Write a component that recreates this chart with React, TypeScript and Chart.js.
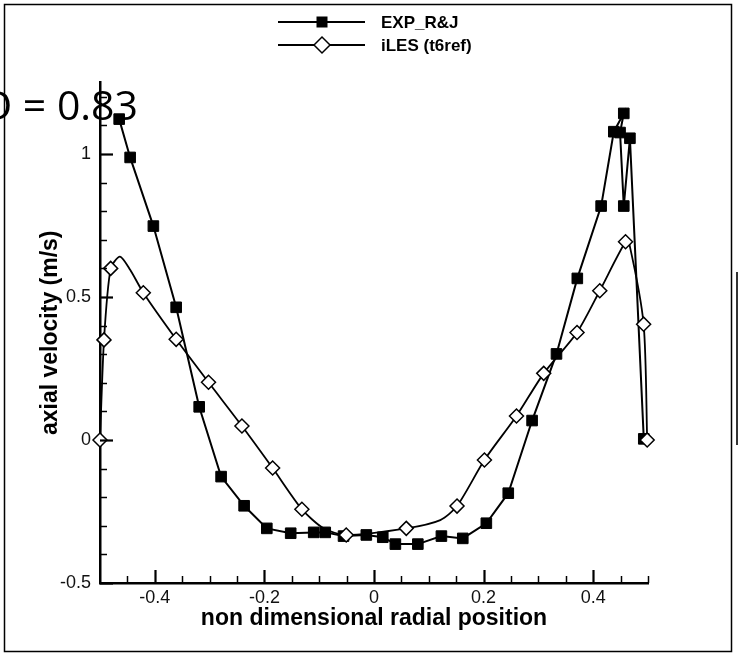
import React, { useEffect, useRef } from 'react';
import { Chart, registerables } from 'chart.js';

Chart.register(...registerables);

const FONT = '"Liberation Sans", Arial, Helvetica, sans-serif';

// Experimental data (EXP_R&J) - filled squares
const EXP_X = [-0.465, -0.445, -0.4026, -0.361, -0.319, -0.279, -0.237, -0.1956, -0.152, -0.11, -0.089, -0.0556, -0.014, 0.016, 0.039, 0.08, 0.123, 0.162, 0.205, 0.245, 0.2885, 0.333, 0.371, 0.4145, 0.4376, 0.4558, 0.449, 0.4558, 0.467, 0.4923];
const EXP_Y = [1.122, 0.988, 0.748, 0.464, 0.116, -0.128, -0.23, -0.309, -0.326, -0.323, -0.323, -0.336, -0.332, -0.34, -0.364, -0.364, -0.336, -0.344, -0.291, -0.186, 0.068, 0.301, 0.565, 0.818, 1.078, 1.142, 1.075, 0.818, 1.055, 0.004];

// Simulation data (iLES (t6ref)) - open diamonds on a smooth line
const ILES_X = [-0.5, -0.4927, -0.4805, -0.4635, -0.445, -0.421, -0.361, -0.302, -0.241, -0.185, -0.1316, -0.092, -0.0507, 0.0589, 0.121, 0.1515, 0.2015, 0.26, 0.3097, 0.3705, 0.412, 0.459, 0.466, 0.492, 0.4985];
const ILES_Y = [0.0, 0.35, 0.6, 0.641, 0.595, 0.515, 0.352, 0.2017, 0.049, -0.098, -0.242, -0.309, -0.332, -0.309, -0.28, -0.231, -0.07, 0.084, 0.233, 0.376, 0.522, 0.693, 0.685, 0.405, 0.0];
const ILES_MARK = [1, 1, 1, 0, 0, 1, 1, 1, 1, 1, 1, 0, 1, 1, 0, 1, 1, 1, 1, 1, 1, 1, 0, 1, 1];

// Axis ticks
const X_LABELS = [-0.4, -0.2, 0, 0.2, 0.4];
const X_MINOR = [-0.45, -0.35, -0.3, -0.25, -0.15, -0.1, -0.05, 0.05, 0.1, 0.15, 0.25, 0.3, 0.35, 0.45, 0.5];
const Y_LABELS = [-0.5, 0, 0.5, 1];
const Y_MINOR = [-0.4, -0.3, -0.2, -0.1, 0.1, 0.2, 0.3, 0.4, 0.6, 0.7, 0.8, 0.9, 1.1, 1.2];

const SERIES_NAMES = ['EXP_R&J', 'iLES (t6ref)'];
const ANNOTATION = 'D = 0.83';

const fmt = (v: number) => String(Math.round(v * 10) / 10);

const decorPlugin = {
  id: 'decor',
  afterDraw(chart: any) {
    const ctx = chart.ctx;
    const xs = chart.scales.x;
    const ys = chart.scales.y;
    const { left, bottom } = chart.chartArea;
    ctx.save();
    ctx.strokeStyle = '#000';
    ctx.lineCap = 'butt';
    // inward ticks on x axis
    const drawX = (v: number, len: number, w: number) => {
      const px = Math.round(xs.getPixelForValue(v)) + 0.5;
      ctx.lineWidth = w;
      ctx.beginPath();
      ctx.moveTo(px, bottom);
      ctx.lineTo(px, bottom - len);
      ctx.stroke();
    };
    X_LABELS.forEach((v) => drawX(v, 13, 2.2));
    X_MINOR.forEach((v) => drawX(v, 7, 1.5));
    const drawY = (v: number, len: number, w: number) => {
      const py = Math.round(ys.getPixelForValue(v)) + 0.5;
      ctx.lineWidth = w;
      ctx.beginPath();
      ctx.moveTo(left, py);
      ctx.lineTo(left + len, py);
      ctx.stroke();
    };
    Y_LABELS.forEach((v) => drawY(v, 13, 2.2));
    Y_MINOR.forEach((v) => drawY(v, 7, 1.5));

    // legend
    const lx0 = 278, lx1 = 365, mx = 322;
    const rows = [22, 45];
    ctx.lineWidth = 2;
    rows.forEach((y) => {
      ctx.beginPath();
      ctx.moveTo(lx0, y);
      ctx.lineTo(lx1, y);
      ctx.stroke();
    });
    ctx.fillStyle = '#000';
    ctx.fillRect(mx - 5.5, rows[0] - 5.5, 11, 11);
    ctx.beginPath();
    ctx.moveTo(mx - 8, rows[1]);
    ctx.lineTo(mx, rows[1] - 8);
    ctx.lineTo(mx + 8, rows[1]);
    ctx.lineTo(mx, rows[1] + 8);
    ctx.closePath();
    ctx.fillStyle = '#fff';
    ctx.fill();
    ctx.lineWidth = 1.5;
    ctx.stroke();
    ctx.fillStyle = '#000';
    ctx.font = `bold 17px ${FONT}`;
    ctx.textAlign = 'left';
    ctx.textBaseline = 'middle';
    ctx.fillText(SERIES_NAMES[0], 381, rows[0] + 1);
    ctx.fillText(SERIES_NAMES[1], 381, rows[1] + 1);

    // annotation text (partly cut at the left edge)
    ctx.font = `41px "Open Sans", ${FONT}`;
    ctx.textAlign = 'right';
    ctx.textBaseline = 'alphabetic';
    ctx.fillText(ANNOTATION, 138, 120);

    // outer frame
    ctx.lineWidth = 1.5;
    ctx.strokeRect(4.5, 4.5, 727, 647);
    ctx.strokeStyle = '#333';
    ctx.lineWidth = 2;
    ctx.beginPath();
    ctx.moveTo(737, 272);
    ctx.lineTo(737, 445);
    ctx.stroke();
    ctx.restore();
  },
};

export default function App() {
  const ref = useRef<HTMLCanvasElement | null>(null);
  useEffect(() => {
    const canvas = ref.current;
    if (!canvas) return;
    const chart = new Chart(canvas, {
      type: 'line',
      data: {
        datasets: [
          {
            label: SERIES_NAMES[0],
            data: EXP_X.map((x, i) => ({ x, y: EXP_Y[i] })),
            borderColor: '#000',
            borderWidth: 2,
            backgroundColor: '#000',
            pointStyle: 'rect',
            pointRadius: 7.5,
            pointBorderWidth: 1,
            pointBackgroundColor: '#000',
            pointBorderColor: '#000',
            tension: 0,
            clip: false,
            order: 2,
          } as any,
          {
            label: SERIES_NAMES[1],
            data: ILES_X.map((x, i) => ({ x, y: ILES_Y[i] })),
            borderColor: '#000',
            borderWidth: 1.8,
            backgroundColor: '#fff',
            pointStyle: 'rectRot',
            pointRadius: ILES_MARK.map((m) => (m ? 7 : 0)),
            pointBorderWidth: 1.5,
            pointBackgroundColor: '#fff',
            pointBorderColor: '#000',
            tension: 0.25,
            clip: false,
            order: 1,
          } as any,
        ],
      },
      options: {
        responsive: false,
        animation: false,
        devicePixelRatio: 1,
        layout: { padding: { left: 0, top: 82.5, right: 90, bottom: 0 } },
        plugins: { legend: { display: false }, tooltip: { enabled: false }, title: { display: false } },
        scales: {
          x: {
            type: 'linear',
            min: -0.5,
            max: 0.5,
            afterBuildTicks: (s: any) => {
              s.ticks = X_LABELS.map((v) => ({ value: v }));
            },
            afterFit: (s: any) => {
              s.height = 72;
            },
            grid: { display: false, drawTicks: false },
            border: { display: true, color: '#000', width: 2.5 },
            ticks: {
              color: '#111',
              font: { family: FONT, size: 18 },
              padding: 4,
              maxRotation: 0,
              callback: (v: any) => fmt(Number(v)),
            },
            title: {
              display: true,
              text: 'non dimensional radial position',
              color: '#000',
              font: { family: FONT, size: 23, weight: 'bold' },
              padding: { top: 0, bottom: 23 },
            },
          },
          y: {
            type: 'linear',
            min: -0.5,
            max: 1.25,
            afterBuildTicks: (s: any) => {
              s.ticks = Y_LABELS.map((v) => ({ value: v }));
            },
            afterFit: (s: any) => {
              s.width = 100;
            },
            grid: { display: false, drawTicks: false },
            border: { display: true, color: '#000', width: 2.5 },
            ticks: {
              color: '#111',
              font: { family: FONT, size: 18 },
              padding: 9,
              callback: (v: any) => fmt(Number(v)),
            },
            title: {
              display: true,
              text: 'axial velocity (m/s)',
              color: '#000',
              font: { family: FONT, size: 23, weight: 'bold' },
              padding: { top: 37, bottom: 0 },
            },
          },
        },
      } as any,
      plugins: [decorPlugin],
    });
    return () => chart.destroy();
  }, []);
  return (
    <div style={{ position: 'absolute', left: 0, top: 0, width: 738, height: 655, background: '#fff' }}>
      <canvas ref={ref} width={738} height={655} style={{ display: 'block', width: 738, height: 655 }} />
    </div>
  );
}
